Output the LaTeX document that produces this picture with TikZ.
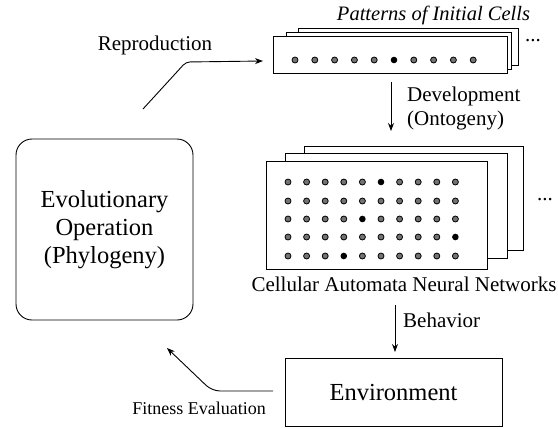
\documentclass[tikz,border=0pt]{standalone}
\usepackage{fontspec}
\setmainfont{Liberation Serif}
\usetikzlibrary{arrows.meta}
\tikzset{
  line/.style={line width=0.9pt},
  arr/.style={line width=0.9pt,-{Stealth[length=8pt,width=6pt]}},
  sheet/.style={draw,line width=0.9pt,fill=white,inner sep=0pt},
  bigtext/.style={font=\fontsize{24.5}{28}\selectfont},
  lbl/.style={font=\fontsize{21}{24}\selectfont,inner sep=0pt},
  cell/.style={draw,line width=0.8pt,fill=black!55},
  cellb/.style={draw,line width=0.8pt,fill=black},
}
\begin{document}
\begin{tikzpicture}[x=1pt,y=-1pt]
\useasboundingbox (0,0) rectangle (558,429);

% evolutionary box
\node[draw,line width=0.9pt,rounded corners=16pt,minimum width=177pt,minimum height=181pt,
      align=center,bigtext] (evo) at (104.5,229.5) {Evolutionary\\Operation\\(Phylogeny)};

% environment
\node[draw,line width=0.9pt,minimum width=217pt,minimum height=68pt,bigtext] (env) at (393.5,392.5) {Environment};

% top stack
\node[sheet,minimum width=220pt,minimum height=37pt] (pat3) at (408,46.5) {};
\node[sheet,minimum width=225pt,minimum height=37pt] (pat2) at (398.5,50.5) {};
\node[sheet,minimum width=234pt,minimum height=37pt] (pat) at (390,54.5) {};
\foreach \i in {0,...,9}{
  \ifnum\i=5
    \fill[black] (295+19.8*\i,60) circle (3.3);
  \else
    \filldraw[cell] (295+19.8*\i,60) circle (3);
  \fi
}
\node[font=\fontsize{20.5}{24}\selectfont\itshape,inner sep=0pt] (pattxt) at (433.5,15) {Patterns of Initial Cells};
\node[lbl] (dots1) at (533,41) {...};

% grid stack
\node[sheet,minimum width=219pt,minimum height=104pt] (can3) at (413.5,198) {};
\node[sheet,minimum width=222pt,minimum height=105pt] (can2) at (396,205.5) {};
\node[sheet,minimum width=221pt,minimum height=108pt] (can) at (376.5,215) {};
\foreach \r/\y in {1/182,2/201,3/219,4/237,5/256}{
  \foreach \c in {0,...,9}{
    \pgfmathtruncatemacro{\k}{mod(\r*7+\c*3,11)}
    \ifnum\k=0
      \fill[black] (288+18.6*\c,\y) circle (3.3);
    \else
      \filldraw[cell] (288+18.6*\c,\y) circle (3);
    \fi
  }
}
\node[lbl] (dots2) at (545,200) {...};
\node[lbl] (cantxt) at (404,284) {Cellular Automata Neural Networks};

% development arrow
\coordinate (d1) at (391,82);
\coordinate (d2) at (391,131);
\draw[arr] (d1) -- (d2);
\node[lbl,anchor=west,align=left] (devtxt) at (407,108) {Development\\(Ontogeny)};

% behavior arrow
\coordinate (b1) at (395,305);
\coordinate (b2) at (395,352);
\draw[arr] (b1) -- (b2);
\node[lbl,anchor=west] (behtxt) at (403,320) {Behavior};

% reproduction arrow
\coordinate (r0) at (143,109);
\coordinate (r1) at (186,62);
\coordinate (r2) at (263,61);
\draw[arr,rounded corners=4pt] (r0) -- (r1) -- (r2);
\node[lbl] (reptxt) at (155,45) {Reproduction};

% fitness arrow
\coordinate (f0) at (273,391);
\coordinate (f1) at (212,391);
\coordinate (f2) at (167,348);
\draw[arr,rounded corners=8pt] (f0) -- (f1) -- (f2);
\node[font=\fontsize{18}{22}\selectfont,inner sep=0pt,anchor=east] (fittxt) at (266,408) {Fitness Evaluation};
\end{tikzpicture}
\end{document}
